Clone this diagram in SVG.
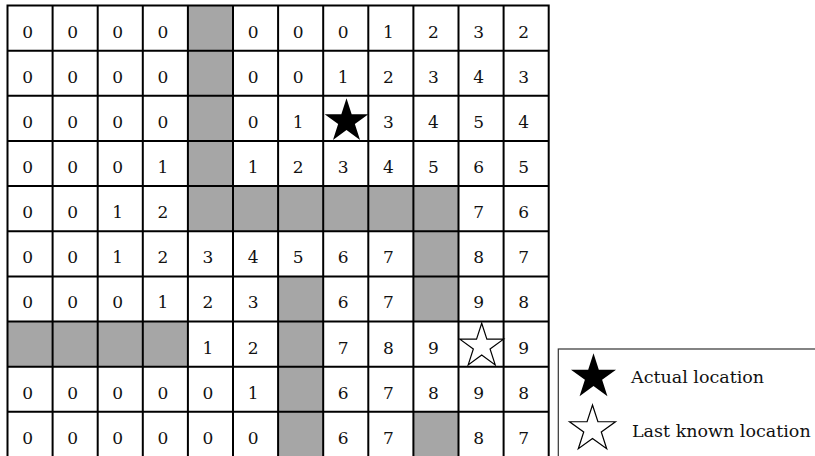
<svg xmlns="http://www.w3.org/2000/svg" width="815" height="456" viewBox="0 0 815 456">
<style>
.g{fill:#a6a6a6}
.n{font-family:"DejaVu Serif","Liberation Serif",serif;font-size:17px;fill:#111;text-anchor:middle}
.lt{font-family:"DejaVu Serif","Liberation Serif",serif;font-size:17.5px;fill:#111}
.grid{fill:none;stroke:#000;stroke-width:2}
</style>
<defs>
<path id="star" d="M0,-23 L5.164,-7.108 L21.874,-7.107 L8.356,2.715 L13.519,18.607 L0,8.786 L-13.519,18.607 L-8.356,2.715 L-21.874,-7.107 L-5.164,-7.108 Z"/>
</defs>
<rect width="815" height="456" fill="#fff"/>
<g id="blocked">
<rect class="g" x="187.9" y="5.5" width="45.1" height="180.6"/>
<rect class="g" x="187.9" y="186.1" width="270.6" height="45.15"/>
<rect class="g" x="413.4" y="231.25" width="45.1" height="90.3"/>
<rect class="g" x="278.1" y="276.4" width="45.1" height="181"/>
<rect class="g" x="7.5" y="321.55" width="180.4" height="45.15"/>
<rect class="g" x="413.4" y="411.85" width="45.1" height="46"/>
</g>
<g id="gridlines">
<path class="grid" d="M7.5,4.5V458 M52.6,4.5V458 M97.7,4.5V458 M142.8,4.5V458 M187.9,4.5V458 M233,4.5V458 M278.1,4.5V458 M323.2,4.5V458 M368.3,4.5V458 M413.4,4.5V458 M458.5,4.5V458 M503.6,4.5V458 M548.7,4.5V458 M6.5,5.5H549.7 M6.5,50.65H549.7 M6.5,95.8H549.7 M6.5,140.95H549.7 M6.5,186.1H549.7 M6.5,231.25H549.7 M6.5,276.4H549.7 M6.5,321.55H549.7 M6.5,366.7H549.7 M6.5,411.85H549.7"/>
</g>
<g id="row0">
<text class="n" x="27.55" y="37.5">0</text><text class="n" x="72.65" y="37.5">0</text><text class="n" x="117.75" y="37.5">0</text><text class="n" x="162.85" y="37.5">0</text>
<text class="n" x="253.05" y="37.5">0</text><text class="n" x="298.15" y="37.5">0</text><text class="n" x="343.25" y="37.5">0</text><text class="n" x="388.35" y="37.5">1</text><text class="n" x="433.45" y="37.5">2</text><text class="n" x="478.55" y="37.5">3</text><text class="n" x="523.65" y="37.5">2</text>
</g>
<g id="row1">
<text class="n" x="27.55" y="82.65">0</text><text class="n" x="72.65" y="82.65">0</text><text class="n" x="117.75" y="82.65">0</text><text class="n" x="162.85" y="82.65">0</text>
<text class="n" x="253.05" y="82.65">0</text><text class="n" x="298.15" y="82.65">0</text><text class="n" x="343.25" y="82.65">1</text><text class="n" x="388.35" y="82.65">2</text><text class="n" x="433.45" y="82.65">3</text><text class="n" x="478.55" y="82.65">4</text><text class="n" x="523.65" y="82.65">3</text>
</g>
<g id="row2">
<text class="n" x="27.55" y="127.8">0</text><text class="n" x="72.65" y="127.8">0</text><text class="n" x="117.75" y="127.8">0</text><text class="n" x="162.85" y="127.8">0</text>
<text class="n" x="253.05" y="127.8">0</text><text class="n" x="298.15" y="127.8">1</text><text class="n" x="388.35" y="127.8">3</text><text class="n" x="433.45" y="127.8">4</text><text class="n" x="478.55" y="127.8">5</text><text class="n" x="523.65" y="127.8">4</text>
</g>
<g id="row3">
<text class="n" x="27.55" y="172.95">0</text><text class="n" x="72.65" y="172.95">0</text><text class="n" x="117.75" y="172.95">0</text><text class="n" x="162.85" y="172.95">1</text>
<text class="n" x="253.05" y="172.95">1</text><text class="n" x="298.15" y="172.95">2</text><text class="n" x="343.25" y="172.95">3</text><text class="n" x="388.35" y="172.95">4</text><text class="n" x="433.45" y="172.95">5</text><text class="n" x="478.55" y="172.95">6</text><text class="n" x="523.65" y="172.95">5</text>
</g>
<g id="row4">
<text class="n" x="27.55" y="218.1">0</text><text class="n" x="72.65" y="218.1">0</text><text class="n" x="117.75" y="218.1">1</text><text class="n" x="162.85" y="218.1">2</text>
<text class="n" x="478.55" y="218.1">7</text><text class="n" x="523.65" y="218.1">6</text>
</g>
<g id="row5">
<text class="n" x="27.55" y="263.25">0</text><text class="n" x="72.65" y="263.25">0</text><text class="n" x="117.75" y="263.25">1</text><text class="n" x="162.85" y="263.25">2</text><text class="n" x="207.95" y="263.25">3</text><text class="n" x="253.05" y="263.25">4</text><text class="n" x="298.15" y="263.25">5</text><text class="n" x="343.25" y="263.25">6</text><text class="n" x="388.35" y="263.25">7</text>
<text class="n" x="478.55" y="263.25">8</text><text class="n" x="523.65" y="263.25">7</text>
</g>
<g id="row6">
<text class="n" x="27.55" y="308.4">0</text><text class="n" x="72.65" y="308.4">0</text><text class="n" x="117.75" y="308.4">0</text><text class="n" x="162.85" y="308.4">1</text><text class="n" x="207.95" y="308.4">2</text><text class="n" x="253.05" y="308.4">3</text>
<text class="n" x="343.25" y="308.4">6</text><text class="n" x="388.35" y="308.4">7</text>
<text class="n" x="478.55" y="308.4">9</text><text class="n" x="523.65" y="308.4">8</text>
</g>
<g id="row7">
<text class="n" x="207.95" y="353.55">1</text><text class="n" x="253.05" y="353.55">2</text>
<text class="n" x="343.25" y="353.55">7</text><text class="n" x="388.35" y="353.55">8</text><text class="n" x="433.45" y="353.55">9</text>
<text class="n" x="523.65" y="353.55">9</text>
</g>
<g id="row8">
<text class="n" x="27.55" y="398.7">0</text><text class="n" x="72.65" y="398.7">0</text><text class="n" x="117.75" y="398.7">0</text><text class="n" x="162.85" y="398.7">0</text><text class="n" x="207.95" y="398.7">0</text><text class="n" x="253.05" y="398.7">1</text>
<text class="n" x="343.25" y="398.7">6</text><text class="n" x="388.35" y="398.7">7</text><text class="n" x="433.45" y="398.7">8</text><text class="n" x="478.55" y="398.7">9</text><text class="n" x="523.65" y="398.7">8</text>
</g>
<g id="row9">
<text class="n" x="27.55" y="443.85">0</text><text class="n" x="72.65" y="443.85">0</text><text class="n" x="117.75" y="443.85">0</text><text class="n" x="162.85" y="443.85">0</text><text class="n" x="207.95" y="443.85">0</text><text class="n" x="253.05" y="443.85">0</text>
<text class="n" x="343.25" y="443.85">6</text><text class="n" x="388.35" y="443.85">7</text>
<text class="n" x="478.55" y="443.85">8</text><text class="n" x="523.65" y="443.85">7</text>
</g>
<g id="actual-star">
<use href="#star" transform="translate(346.5,121.3)" fill="#000"/>
</g>
<g id="last-known-star">
<use href="#star" transform="translate(481.7,346.3)" fill="#fff" stroke="#000" stroke-width="1.2"/>
</g>
<g id="legend">
<rect x="558.3" y="349" width="300" height="150" fill="#fff" stroke="#333" stroke-width="1.2"/>
<use href="#star" transform="translate(593.5,377) scale(1.03)" fill="#000"/>
<text class="lt" x="631" y="383">Actual location</text>
<use href="#star" transform="translate(592.5,429.2) scale(1.05)" fill="#fff" stroke="#000" stroke-width="1.15"/>
<text class="lt" x="632" y="436.5">Last known location</text>
</g>
</svg>
